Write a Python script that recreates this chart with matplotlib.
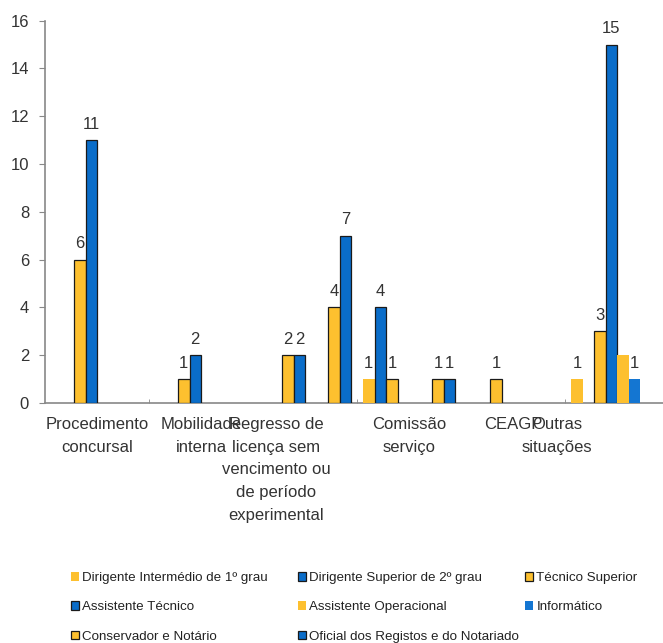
import numpy as np
import matplotlib
matplotlib.use("Agg")
import matplotlib.pyplot as plt
from matplotlib.patches import Patch

plt.rcParams["font.family"] = ["Liberation Sans", "DejaVu Sans"]

categories = [
    "Procedimento\nconcursal",
    "Mobilidade\ninterna",
    "Regresso de\nlicença sem\nvencimento ou\nde período\nexperimental",
    "Comissão\nserviço",
    "CEAGP",
    "Outras\nsituações",
]
label_shift = [0.0, 0.0, -0.28, 0.0, 0.0, -0.58]

series_names = [
    "Dirigente Intermédio de 1º grau",
    "Dirigente Superior de 2º grau",
    "Técnico Superior",
    "Assistente Técnico",
    "Assistente Operacional",
    "Informático",
    "Conservador e Notário",
    "Oficial dos Registos e do Notariado",
]
dirigente_intermedio = [0, 0, 0, 1, 0, 1]
dirigente_superior = [0, 0, 0, 4, 0, 0]
tecnico_superior = [6, 1, 2, 1, 1, 3]
assistente_tecnico = [11, 2, 2, 0, 0, 15]
assistente_operacional = [0, 0, 0, 0, 0, 2]
informatico = [0, 0, 0, 0, 0, 1]
conservador = [0, 0, 4, 1, 0, 0]
oficial = [0, 0, 7, 1, 0, 0]

series_values = [dirigente_intermedio, dirigente_superior, tecnico_superior,
                 assistente_tecnico, assistente_operacional, informatico,
                 conservador, oficial]

GOLD = "#FDC02F"
BLUE = "#0A6DC9"
# (face colour, outlined, value labels shown)
styles = [
    (GOLD, False, True),
    (BLUE, True, True),
    (GOLD, True, True),
    (BLUE, True, True),
    (GOLD, False, False),
    ("#1476D2", False, True),
    (GOLD, True, True),
    (BLUE, True, True),
]

fig = plt.figure(figsize=(6.63, 6.43), dpi=100)
ax = fig.add_axes([45 / 663, 240 / 643, 1 - 45 / 663, 382.3 / 643])

x = np.arange(len(categories))
n = len(series_names)
w = 0.1106
handles = []
for k, (name, vals, (col, edged, labelled)) in enumerate(zip(series_names, series_values, styles)):
    pos = x + (k - (n - 1) / 2) * w
    vals = np.array(vals)
    keep = vals > 0
    bars = ax.bar(pos[keep], vals[keep], width=w, color=col,
                  edgecolor="#1a1a1a" if edged else "none",
                  linewidth=0.9 if edged else 0, zorder=3)
    if labelled:
        ax.bar_label(bars, labels=[str(v) for v in vals[keep]], padding=6,
                     fontsize=12, color="#333333")
    handles.append(Patch(facecolor=col, edgecolor="#1a1a1a" if edged else col,
                         linewidth=0.9 if edged else 0, label=name))

ax.set_xlim(-0.5, 5.44)
ax.set_ylim(0, 16)
ax.set_yticks(np.arange(0, 17, 2))
ax.tick_params(axis="y", length=4.5, color="#888888", labelsize=12,
               labelcolor="#333333", pad=7)

ax.set_xticks(x + np.array(label_shift))
ax.set_xticklabels(categories, fontsize=12, color="#333333", linespacing=1.65)
ax.tick_params(axis="x", which="major", length=0, pad=10)
ax.set_xticks([0.5, 2.5, 4.5], minor=True)
ax.tick_params(axis="x", which="minor", direction="in", length=3, color="#888888")

for side in ("top", "right"):
    ax.spines[side].set_visible(False)
for side in ("left", "bottom"):
    ax.spines[side].set_color("#888888")
    ax.spines[side].set_linewidth(1.2)

# legend laid out row by row in three fixed columns
col_x = [71, 298, 525]
for c in range(3):
    idx = list(range(c, n, 3))
    leg = fig.legend([handles[i] for i in idx], [series_names[i] for i in idx],
                     loc="upper left", bbox_to_anchor=(col_x[c] / 663, 1 - 572 / 643),
                     frameon=False, borderpad=0, borderaxespad=0,
                     handlelength=0.6, handleheight=0.6, handletextpad=0.25,
                     labelspacing=1.3, prop={"size": 9.6})
    for t in leg.get_texts():
        t.set_color("#222222")

fig.savefig("out.png", dpi=100)
